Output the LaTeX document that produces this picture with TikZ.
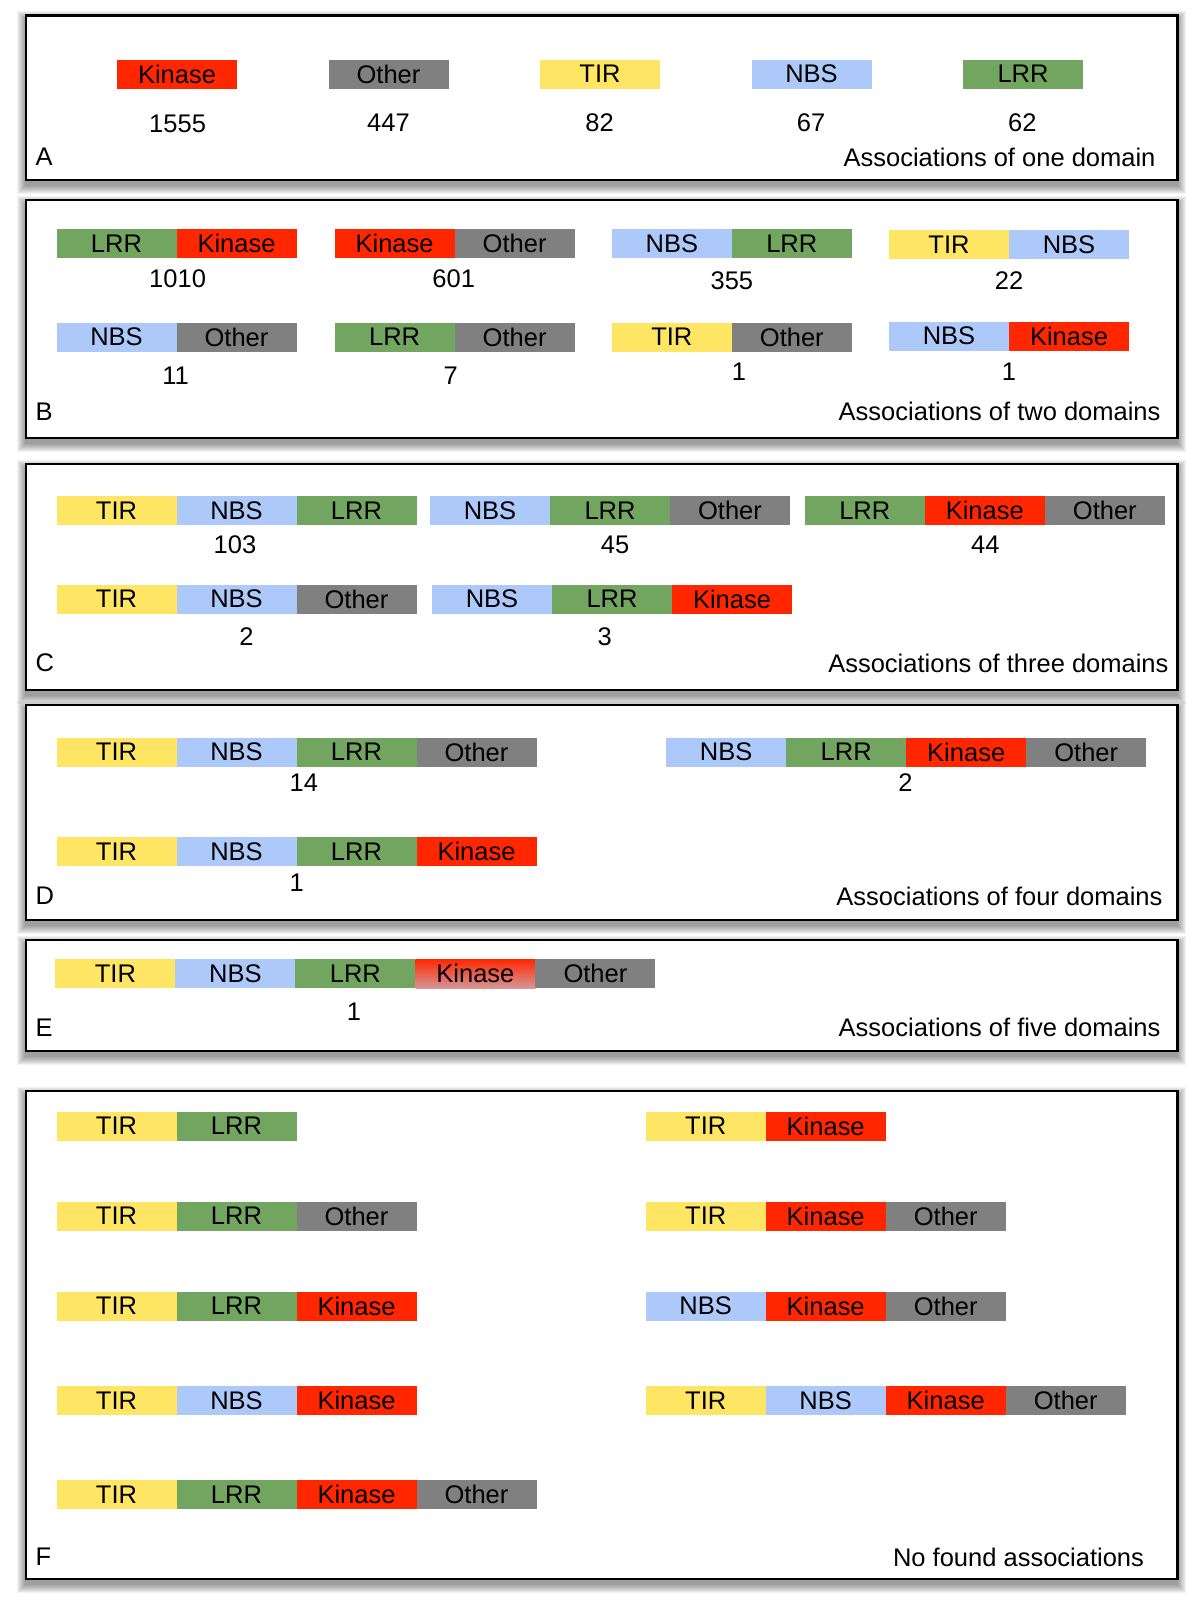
\documentclass[tikz,border=0pt]{standalone}
\usepackage{fontspec}
\setmainfont{Liberation Sans}
\usetikzlibrary{positioning,calc}

\definecolor{kinc}{RGB}{255,38,0}
\definecolor{othc}{RGB}{128,128,128}
\definecolor{tirc}{RGB}{254,230,100}
\definecolor{nbsc}{RGB}{172,201,250}
\definecolor{lrrc}{RGB}{114,165,96}
\definecolor{kinfade}{RGB}{214,150,150}

\tikzset{
  seg/.style={minimum width=120pt, minimum height=29pt, inner sep=0pt, outer sep=0pt, anchor=west},
  panel/.style={draw=black, line width=2.2pt, fill=white},
}

% one bar of domains, side by side
\newcommand\dombar[3]{%
  \foreach \c/\t [count=\i] in {#3} {
    \node[seg, fill=\c, xshift={(\i-1)*120}] (#1-\i) at (#2) {\t};
  }
}
% framed panel with a soft shadow
\newcommand\panelbox[2]{%
  \foreach \k in {1,...,9} {
    \fill[black, opacity=0.05] ($(#1)+(-\k,5-\k)$) rectangle ($(#2)+(\k,5+\k)$);
  }
  \draw[panel] (#1) rectangle (#2);
}

\begin{document}
\begin{tikzpicture}[x=1pt, y=-1pt, every node/.style={font=\fontsize{25.5}{30}\selectfont}]
        \useasboundingbox (0,0) rectangle (1200,1609);

        \panelbox{25.7,15.4}{1177.4,179.6}
        \panelbox{25.7,200.2}{1177.4,438.3}
        \panelbox{25.7,464}{1177.4,689.8}
        \panelbox{25.7,705.2}{1177.4,919.7}
        \panelbox{25.7,940.3}{1177.4,1051.1}
        \panelbox{25.7,1091.2}{1177.4,1578.8}

        % A
        \dombar{a1}{117,74}{kinc/Kinase}
        \dombar{a2}{328.5,74}{othc/Other}
        \dombar{a3}{540,74}{tirc/TIR}
        \dombar{a4}{751.5,74}{nbsc/NBS}
        \dombar{a5}{963,74}{lrrc/LRR}
        \node (na1) at (177.6,124) {1555};
        \node (na2) at (388.5,123) {447};
        \node (na3) at (599.5,123) {82};
        \node (na4) at (811,123) {67};
        \node (na5) at (1022.4,123) {62};
        \node[anchor=west] (la) at (32,157) {A};
        \node[anchor=east] (ta) at (1159,157) {Associations of one domain};

        % B
        \dombar{b1}{56.5,243.5}{lrrc/LRR,kinc/Kinase}
        \dombar{b2}{334.6,243.5}{kinc/Kinase,othc/Other}
        \dombar{b3}{611.8,243.5}{nbsc/NBS,lrrc/LRR}
        \dombar{b4}{889,244.5}{tirc/TIR,nbsc/NBS}
        \dombar{b5}{56.5,337.2}{nbsc/NBS,othc/Other}
        \dombar{b6}{334.6,337.2}{lrrc/LRR,othc/Other}
        \dombar{b7}{611.8,337.2}{tirc/TIR,othc/Other}
        \dombar{b8}{889,336}{nbsc/NBS,kinc/Kinase}
        \node (nb1) at (177.6,279) {1010};
        \node (nb2) at (453.7,279) {601};
        \node (nb3) at (731.9,281) {355};
        \node (nb4) at (1009,281) {22};
        \node (nb5) at (175.5,375.7) {11};
        \node (nb6) at (450.6,375.7) {7};
        \node (nb7) at (739,371.6) {1};
        \node (nb8) at (1009,371.6) {1};
        \node[anchor=west] (lb) at (32,411.6) {B};
        \node[anchor=east] (tb) at (1164,411.6) {Associations of two domains};

        % C
        \dombar{c1}{56.5,510.7}{tirc/TIR,nbsc/NBS,lrrc/LRR}
        \dombar{c2}{430,510.7}{nbsc/NBS,lrrc/LRR,othc/Other}
        \dombar{c3}{804.8,510.7}{lrrc/LRR,kinc/Kinase,othc/Other}
        \dombar{c4}{56.5,599}{tirc/TIR,nbsc/NBS,othc/Other}
        \dombar{c5}{432,599}{nbsc/NBS,lrrc/LRR,kinc/Kinase}
        \node (nc1) at (235,545) {103};
        \node (nc2) at (615,545) {45};
        \node (nc3) at (985.4,545) {44};
        \node (nc4) at (246.4,636.4) {2};
        \node (nc5) at (604.6,636.4) {3};
        \node[anchor=west] (lc) at (32,663) {C};
        \node[anchor=east] (tc) at (1172,663) {Associations of three domains};

        % D
        \dombar{d1}{56.5,752}{tirc/TIR,nbsc/NBS,lrrc/LRR,othc/Other}
        \dombar{d2}{666.2,752}{nbsc/NBS,lrrc/LRR,kinc/Kinase,othc/Other}
        \dombar{d3}{56.5,851.5}{tirc/TIR,nbsc/NBS,lrrc/LRR,kinc/Kinase}
        \node (nd1) at (303.8,783) {14};
        \node (nd2) at (905.4,783) {2};
        \node (nd3) at (296.7,882.8) {1};
        \node[anchor=west] (ld) at (32,896) {D};
        \node[anchor=east] (td) at (1166,896) {Associations of four domains};

        % E
        \dombar{e1}{55.4,973.6}{tirc/TIR,nbsc/NBS,lrrc/LRR}
        \node[seg, top color=kinc, middle color=kinc, bottom color=kinfade, right=0pt of e1-3] (e1-4) {Kinase};
        \node[seg, fill=othc, right=0pt of e1-4] (e1-5) {Other};
        \node (ne1) at (354,1012) {1};
        \node[anchor=west] (le) at (32,1027.5) {E};
        \node[anchor=east] (te) at (1164,1027.5) {Associations of five domains};

        % F
        \dombar{f1}{56.5,1126}{tirc/TIR,lrrc/LRR}
        \dombar{f2}{56.5,1216}{tirc/TIR,lrrc/LRR,othc/Other}
        \dombar{f3}{56.5,1306}{tirc/TIR,lrrc/LRR,kinc/Kinase}
        \dombar{f4}{56.5,1400.7}{tirc/TIR,nbsc/NBS,kinc/Kinase}
        \dombar{f5}{56.5,1494.6}{tirc/TIR,lrrc/LRR,kinc/Kinase,othc/Other}
        \dombar{f6}{645.7,1126}{tirc/TIR,kinc/Kinase}
        \dombar{f7}{645.7,1216}{tirc/TIR,kinc/Kinase,othc/Other}
        \dombar{f8}{645.7,1306}{nbsc/NBS,kinc/Kinase,othc/Other}
        \dombar{f9}{645.7,1400.7}{tirc/TIR,nbsc/NBS,kinc/Kinase,othc/Other}
        \node[anchor=west] (lf) at (32,1557) {F};
        \node[anchor=east] (tf) at (1147.5,1557) {No found associations};
\end{tikzpicture}
\end{document}
